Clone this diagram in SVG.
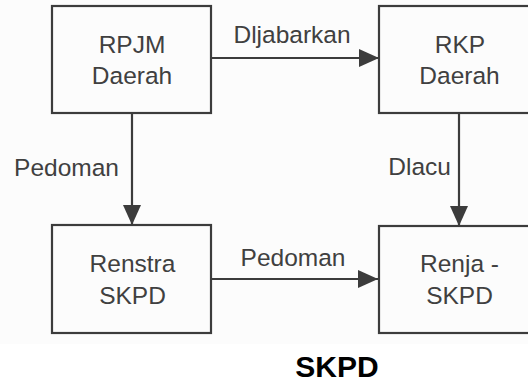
<svg xmlns="http://www.w3.org/2000/svg" width="528" height="383" viewBox="0 0 528 383">
<style>
.box{fill:none;stroke:#3c3c3c;stroke-width:2.2}
.t{font-family:"Liberation Sans",Arial,sans-serif;font-size:24.5px;fill:#404040}
.c{text-anchor:middle}
.e{text-anchor:end}
.ln{stroke:#3c3c3c;stroke-width:2.2;fill:none}
.b{font-family:"Liberation Sans",Arial,sans-serif;font-size:30px;font-weight:bold;fill:#000;text-anchor:middle}
</style>
<defs>
<marker id="ah" markerWidth="20" markerHeight="18" refX="20" refY="9" orient="auto" markerUnits="userSpaceOnUse">
<path d="M0,0 L20,9 L0,18 Z" fill="#3c3c3c"/>
</marker>
</defs>
<rect x="0" y="0" width="528" height="344" fill="#fcfcfc"/>
<rect x="0" y="344" width="528" height="39" fill="#ffffff"/>
<g id="connectors">
<line class="ln" x1="212" y1="58" x2="379" y2="58" marker-end="url(#ah)"/>
<line class="ln" x1="132" y1="113" x2="132" y2="225" marker-end="url(#ah)"/>
<line class="ln" x1="459" y1="113" x2="459" y2="226" marker-end="url(#ah)"/>
<line class="ln" x1="212" y1="279" x2="378" y2="279" marker-end="url(#ah)"/>
<text class="t c" x="292" y="43">Dljabarkan</text>
<text class="t e" x="119" y="176">Pedoman</text>
<text class="t e" x="451" y="175">Dlacu</text>
<text class="t c" x="293" y="266">Pedoman</text>
</g>
<g id="rpjm">
<rect class="box" x="52" y="6" width="159" height="107"/>
<text class="t c" x="132" y="52.5">RPJM</text>
<text class="t c" x="132" y="84">Daerah</text>
</g>
<g id="rkp">
<rect class="box" x="379" y="6" width="160" height="107"/>
<text class="t c" x="460" y="52.5">RKP</text>
<text class="t c" x="459.5" y="84">Daerah</text>
</g>
<g id="renstra">
<rect class="box" x="52" y="225" width="159" height="108"/>
<text class="t c" x="132.5" y="271.5">Renstra</text>
<text class="t c" x="132.5" y="304">SKPD</text>
</g>
<g id="renja">
<rect class="box" x="379" y="226" width="160" height="107"/>
<text class="t c" x="459.5" y="271.5">Renja -</text>
<text class="t c" x="459.5" y="304">SKPD</text>
</g>
<g id="skpd-label">
<text class="b" x="337" y="377">SKPD</text>
</g>
</svg>
